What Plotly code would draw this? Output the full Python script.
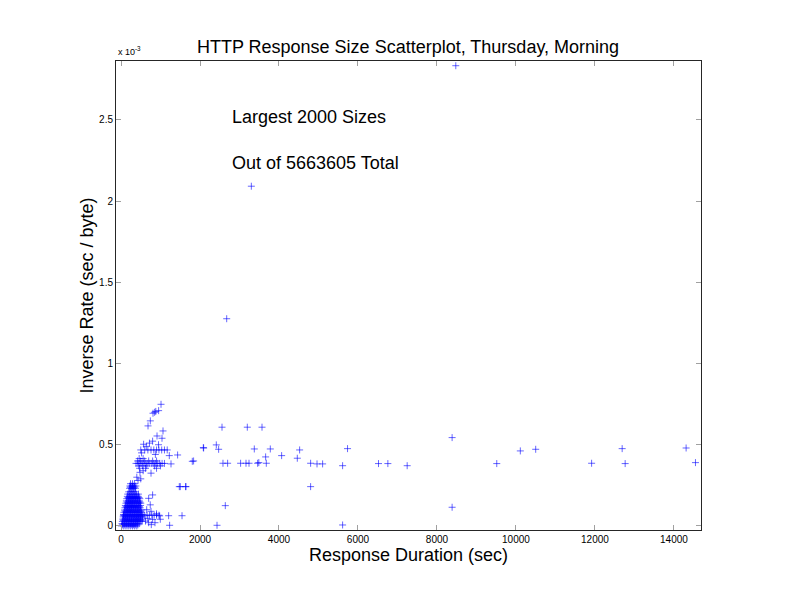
import plotly.graph_objects as go

# Response duration (sec) and inverse rate (units of 1e-3 sec/byte)
duration = [
    # dense cluster near the origin (row by row)
    15, 70, 125, 180, 235, 290, 345, 400,
    42, 97, 152, 207, 262, 317, 372, 427,
    25, 80, 135, 190, 245, 300, 355, 410, 460,
    35, 90, 145, 200, 255, 310, 365, 420, 475, 530,
    62, 117, 172, 227, 282, 337, 392, 447, 502,
    45, 100, 155, 210, 265, 320, 375, 430, 485, 540,
    55, 110, 165, 220, 275, 330, 385, 440, 495, 550,
    87, 142, 197, 252, 307, 362, 417, 472, 527,
    60, 600, 660, 720, 780, 840, 900, 960,
    65, 120, 175, 230, 285, 340, 395, 450, 505, 555,
    75, 130, 185, 240, 295, 350, 405, 460, 515,
    107, 162, 217, 272, 327, 382, 437, 492,
    90, 145, 200, 255, 310, 365, 420, 475, 525,
    100, 155, 210, 265, 320, 375, 430, 485,
    132, 187, 242, 297, 352, 407, 462,
    110, 165, 220, 275, 330, 385, 440, 495,
    125, 180, 235, 290, 345, 400, 455, 500,
    157, 212, 267, 322, 377, 432, 480,
    135, 190, 245, 300, 355, 410, 465,
    145, 200, 255, 310, 365, 420, 475,
    182, 237, 292, 347, 402, 455,
    160, 215, 270, 325, 380, 435,
    170, 225, 280, 335, 390, 440,
    195, 250, 305, 360,
    215, 265, 315, 365,
    240, 290, 340,
    225, 275, 325, 375,
    240, 290, 340,
    # scattered points near the cluster
    700, 740, 650, 760, 620, 700, 680, 800, 860, 995, 767, 900, 978, 1206, 1231, 1545,
    800, 760, 400, 430, 480, 560, 500,
    # band near 0.385
    380, 430, 480, 530, 580, 630, 680, 730, 780, 830, 880, 930, 980, 1040, 1100,
    420, 500, 600, 700, 800, 900,
    450, 550, 650, 850, 1000,
    470, 620, 900,
    460, 560,
    # band near 0.47
    500, 600, 680, 760, 830, 900, 960, 1030, 1100, 1170,
    520, 640, 720, 870, 950, 800, 572,
    1223, 1433,
    # upper diagonal
    684, 742, 810, 851, 880, 952, 1013, 1063, 1038, 912,
    # mid-range scattered
    1266, 1838, 1805, 1476, 1646, 1501, 1633, 2084, 2092, 2413, 2472, 2557, 2582, 2699,
    2641, 2431, 3028, 3165, 3198, 3241, 3375, 3459, 3489, 3570, 3662, 3679, 3780,
    4067, 4464, 4523, 4801, 4801, 4963, 5105,
    5611, 5736, 5611, 6520, 6757, 7246, 8384, 8384, 9514, 10111, 10500,
    11916, 12690, 12766, 14309, 14546,
    # far outliers
    2676, 3300, 8477,
]
inverse_rate = [
    0.0, 0.0, 0.0, 0.0, 0.0, 0.0, 0.0, 0.0,
    0.007, 0.007, 0.007, 0.007, 0.007, 0.007, 0.007, 0.007,
    0.014, 0.014, 0.014, 0.014, 0.014, 0.014, 0.014, 0.014, 0.014,
    0.028, 0.028, 0.028, 0.028, 0.028, 0.028, 0.028, 0.028, 0.028, 0.028,
    0.035, 0.035, 0.035, 0.035, 0.035, 0.035, 0.035, 0.035, 0.035,
    0.042, 0.042, 0.042, 0.042, 0.042, 0.042, 0.042, 0.042, 0.042, 0.042,
    0.056, 0.056, 0.056, 0.056, 0.056, 0.056, 0.056, 0.056, 0.056, 0.056,
    0.063, 0.063, 0.063, 0.063, 0.063, 0.063, 0.063, 0.063, 0.063,
    0.066, 0.066, 0.066, 0.066, 0.066, 0.066, 0.066, 0.066,
    0.07, 0.07, 0.07, 0.07, 0.07, 0.07, 0.07, 0.07, 0.07, 0.07,
    0.084, 0.084, 0.084, 0.084, 0.084, 0.084, 0.084, 0.084, 0.084,
    0.091, 0.091, 0.091, 0.091, 0.091, 0.091, 0.091, 0.091,
    0.098, 0.098, 0.098, 0.098, 0.098, 0.098, 0.098, 0.098, 0.098,
    0.112, 0.112, 0.112, 0.112, 0.112, 0.112, 0.112, 0.112,
    0.119, 0.119, 0.119, 0.119, 0.119, 0.119, 0.119,
    0.126, 0.126, 0.126, 0.126, 0.126, 0.126, 0.126, 0.126,
    0.14, 0.14, 0.14, 0.14, 0.14, 0.14, 0.14, 0.14,
    0.147, 0.147, 0.147, 0.147, 0.147, 0.147, 0.147,
    0.154, 0.154, 0.154, 0.154, 0.154, 0.154, 0.154,
    0.168, 0.168, 0.168, 0.168, 0.168, 0.168, 0.168,
    0.175, 0.175, 0.175, 0.175, 0.175, 0.175,
    0.182, 0.182, 0.182, 0.182, 0.182, 0.182,
    0.196, 0.196, 0.196, 0.196, 0.196, 0.196,
    0.21, 0.21, 0.21, 0.21,
    0.232, 0.232, 0.232, 0.232,
    0.239, 0.239, 0.239,
    0.246, 0.246, 0.246, 0.246,
    0.26, 0.26, 0.26,
    0.17, 0.13, 0.1, 0.09, 0.03, 0.02, 0.045, 0.04, 0.02, 0.041, 0.008, 0.075, 0.062, 0.063, 0.004, 0.063,
    0.191, 0.325, 0.30, 0.28, 0.33, 0.34, 0.29,
    0.385, 0.385, 0.385, 0.385, 0.385, 0.385, 0.385, 0.385, 0.385, 0.385, 0.385, 0.385, 0.385, 0.385, 0.385,
    0.40, 0.40, 0.40, 0.40, 0.40, 0.40,
    0.37, 0.37, 0.37, 0.37, 0.37,
    0.355, 0.355, 0.355,
    0.415, 0.415,
    0.468, 0.468, 0.468, 0.468, 0.468, 0.468, 0.468, 0.468, 0.468, 0.468,
    0.45, 0.49, 0.51, 0.44, 0.50, 0.522, 0.503,
    0.433, 0.437,
    0.616, 0.647, 0.694, 0.700, 0.705, 0.710, 0.749, 0.585, 0.540, 0.554,
    0.382, 0.400, 0.398, 0.242, 0.242, 0.242, 0.242, 0.482, 0.480, 0.499, 0.472, 0.608, 0.386, 0.386,
    0.125, 0.004, 0.386, 0.386, 0.608, 0.386, 0.474, 0.386, 0.390, 0.608, 0.425, 0.386, 0.474,
    0.433, 0.417, 0.468, 0.386, 0.242, 0.382, 0.382,
    0.371, 0.476, 0.006, 0.384, 0.384, 0.371, 0.544, 0.115, 0.384, 0.462, 0.472,
    0.386, 0.476, 0.384, 0.480, 0.390,
    1.276, 2.092, 2.834,
]

x_ticks = [0, 2000, 4000, 6000, 8000, 10000, 12000, 14000]
x_tick_labels = ["0", "2000", "4000", "6000", "8000", "10000", "12000", "14000"]
y_ticks = [0, 0.5, 1, 1.5, 2, 2.5]
y_tick_labels = ["0", "0.5", "1", "1.5", "2", "2.5"]

FONT = "Liberation Sans, Arial, Helvetica, sans-serif"

# The page body has an 8px margin, so the figure is sized to fit inside it.
W, H = 776, 596

fig = go.Figure()
fig.add_trace(go.Scatter(
    x=duration, y=inverse_rate, mode="markers",
    marker=dict(symbol="cross-thin-open", size=5,
                line=dict(width=1, color="rgba(0,0,255,0.6)"),
                color="rgba(0,0,255,0.6)"),
    showlegend=False, hoverinfo="x+y",
))

axis_common = dict(
    showline=True, linecolor="#262626", linewidth=1, mirror="ticks",
    ticks="inside", ticklen=5, tickwidth=1, tickcolor="#a0a0a0",
    showgrid=False, zeroline=False, automargin=False,
    tickfont=dict(family=FONT, size=10, color="black"),
)

fig.update_layout(
    width=W, height=H,
    margin=dict(l=108, r=83, t=53, b=74),
    paper_bgcolor="white", plot_bgcolor="white",
    title=dict(text="HTTP Response Size Scatterplot, Thursday, Morning",
               x=400 / W, xanchor="center",
               y=1 - 39 / H, yanchor="middle",
               font=dict(family=FONT, size=18, color="black")),
    xaxis=dict(range=[-127, 14686], tickvals=x_ticks, ticktext=x_tick_labels,
               title=dict(text="Response Duration (sec)", standoff=4,
                          font=dict(family=FONT, size=18, color="black")),
               **axis_common),
    yaxis=dict(range=[-0.025, 2.863], tickvals=y_ticks, ticktext=y_tick_labels,
               title=dict(text="Inverse Rate (sec / byte)", standoff=0,
                          font=dict(family=FONT, size=18, color="black")),
               **axis_common),
    annotations=[
        dict(text="x 10<sup>-3</sup>", xref="paper", yref="paper", x=0, y=1,
             xanchor="left", yanchor="bottom", yshift=2, showarrow=False,
             font=dict(family=FONT, size=9, color="black")),
        dict(text="Largest 2000 Sizes", xref="x", yref="y", x=2767, y=2.518,
             xanchor="left", yanchor="middle", showarrow=False,
             font=dict(family=FONT, size=18, color="black")),
        dict(text="Out of 5663605 Total", xref="x", yref="y", x=2767, y=2.235,
             xanchor="left", yanchor="middle", showarrow=False,
             font=dict(family=FONT, size=18, color="black")),
    ],
)

fig.write_html("out.html")
